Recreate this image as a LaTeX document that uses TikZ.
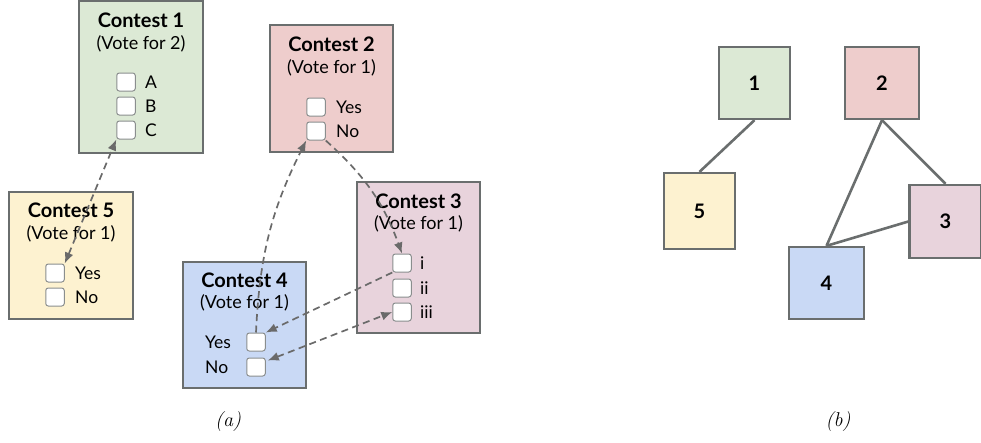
\documentclass[tikz,border=0pt]{standalone}
\usepackage{fontspec}
\newfontfamily\lato{Lato}
\usetikzlibrary{arrows.meta}
\definecolor{bord}{HTML}{6A6E6E}
\definecolor{cbord}{HTML}{8A8E8E}
\definecolor{fgreen}{HTML}{DCE9D5}
\definecolor{fred}{HTML}{EECDCC}
\definecolor{fmauve}{HTML}{E8D3DC}
\definecolor{fblue}{HTML}{C9D9F5}
\definecolor{fyellow}{HTML}{FDF2D0}
\definecolor{arr}{HTML}{6A6A6A}
\begin{document}
\begin{tikzpicture}[x=1pt,y=-1pt,
  contest/.style={draw=bord, line width=2.3pt, inner sep=0pt},
  ttl/.style={font=\lato\bfseries\fontsize{20}{24}\selectfont, inner sep=0pt},
  vote/.style={font=\lato\fontsize{18}{22}\selectfont, inner sep=0pt},
  opt/.style={font=\lato\fontsize{17.5}{21}\selectfont, inner sep=0pt, anchor=west},
  cbox/.style={draw=cbord, fill=white, line width=1pt, rounded corners=2.5pt, minimum width=18.5pt, minimum height=18pt, inner sep=0pt},
  tipa/.tip={Latex[length=11pt,width=9pt]},
  link/.style={draw=arr, line width=1.7pt, dash pattern=on 7pt off 4.5pt, arrows={-tipa}},
  link2/.style={link, arrows={tipa-tipa}},
  sq/.style={draw=bord, line width=2.3pt, inner sep=0pt, font=\lato\bfseries\fontsize{20}{24}\selectfont},
  gedge/.style={draw=bord, line width=2.6pt},
  captxt/.style={font=\fontsize{20}{24}\selectfont\itshape, inner sep=0pt}
]
\useasboundingbox (0,0) rectangle (981,442);

% ---------- panel (a) ----------
\node[contest, fill=fgreen, minimum width=124pt, minimum height=152pt] (C1) at (141,77) {};
\node[contest, fill=fyellow, minimum width=124pt, minimum height=127pt] (C5) at (71,255.5) {};
\node[contest, fill=fblue, minimum width=123pt, minimum height=126pt] (C4) at (244.5,325) {};
\node[contest, fill=fred, minimum width=123pt, minimum height=127pt] (C2) at (331.5,88.5) {};
\node[contest, fill=fmauve, minimum width=123pt, minimum height=151pt] (C3) at (418.5,257.5) {};

% Contest 1
\node[ttl] (t1) at (141,20) {Contest 1};
\node[vote] (v1) at (141,44) {(Vote for 2)};
\node[cbox] (c1a) at (126,82) {};
\node[cbox] (c1b) at (126,106) {};
\node[cbox] (c1c) at (126,130) {};
\node[opt] (l1a) at (145,82) {A};
\node[opt] (l1b) at (145,106) {B};
\node[opt] (l1c) at (145,130) {C};

% Contest 5
\node[ttl] (t5) at (71,210) {Contest 5};
\node[vote] (v5) at (71,234) {(Vote for 1)};
\node[cbox] (c5y) at (55,273) {};
\node[cbox] (c5n) at (55,297) {};
\node[opt] (l5y) at (75,273) {Yes};
\node[opt] (l5n) at (75,297) {No};

% Contest 4
\node[ttl] (t4) at (244.5,280) {Contest 4};
\node[vote] (v4) at (244.5,303) {(Vote for 1)};
\node[cbox] (c4y) at (256,342) {};
\node[cbox] (c4n) at (256,367) {};
\node[opt] (l4y) at (205,342) {Yes};
\node[opt] (l4n) at (205,367) {No};

% Contest 2
\node[ttl] (t2) at (331.5,44) {Contest 2};
\node[vote] (v2) at (331.5,68) {(Vote for 1)};
\node[cbox] (c2y) at (316,107) {};
\node[cbox] (c2n) at (316,131) {};
\node[opt] (l2y) at (336,107) {Yes};
\node[opt] (l2n) at (336,131) {No};

% Contest 3
\node[ttl] (t3) at (418.5,201) {Contest 3};
\node[vote] (v3) at (418.5,224) {(Vote for 1)};
\node[cbox] (c3i) at (402,263) {};
\node[cbox] (c3ii) at (402,288) {};
\node[cbox] (c3iii) at (402,312) {};
\node[opt] (l3i) at (420,263) {i};
\node[opt] (l3ii) at (420,288) {ii};
\node[opt] (l3iii) at (420,312) {iii};

% dashed links
\draw[link2] (c5y.north east) -- (c1c.south west);
\draw[link] (c4y.north) to[bend left=12] (c2n.south west);
\draw[link] (c2n.south east) to[bend left=14] (c3i.north);
\draw[link] (c3i.south west) -- (c4y.north east);
\draw[link2] ([xshift=2pt,yshift=-3pt]c4n.north east) -- (c3iii.west);

% ---------- panel (b) ----------
\node[sq, fill=fgreen, minimum width=71pt, minimum height=72pt] (b1) at (754.5,83) {1};
\node[sq, fill=fred, minimum width=74pt, minimum height=72pt] (b2) at (882,83) {2};
\node[sq, fill=fyellow, minimum width=71pt, minimum height=76pt] (b5) at (699.5,211) {5};
\node[sq, fill=fmauve, minimum width=72pt, minimum height=73pt] (b3) at (945.5,221.5) {3};
\node[sq, fill=fblue, minimum width=75pt, minimum height=72pt] (b4) at (826.5,283) {4};

\draw[gedge] (b1.south) -- (b5.north);
\draw[gedge] (b2.south) -- (b3.north);
\draw[gedge] (b2.south) -- (b4.north);
\draw[gedge] (b4.north) -- (b3.west);

% captions
\node[captxt] (capa) at (228,422) {(a)};
\node[captxt] (capb) at (838,422) {(b)};
\end{tikzpicture}
\end{document}
